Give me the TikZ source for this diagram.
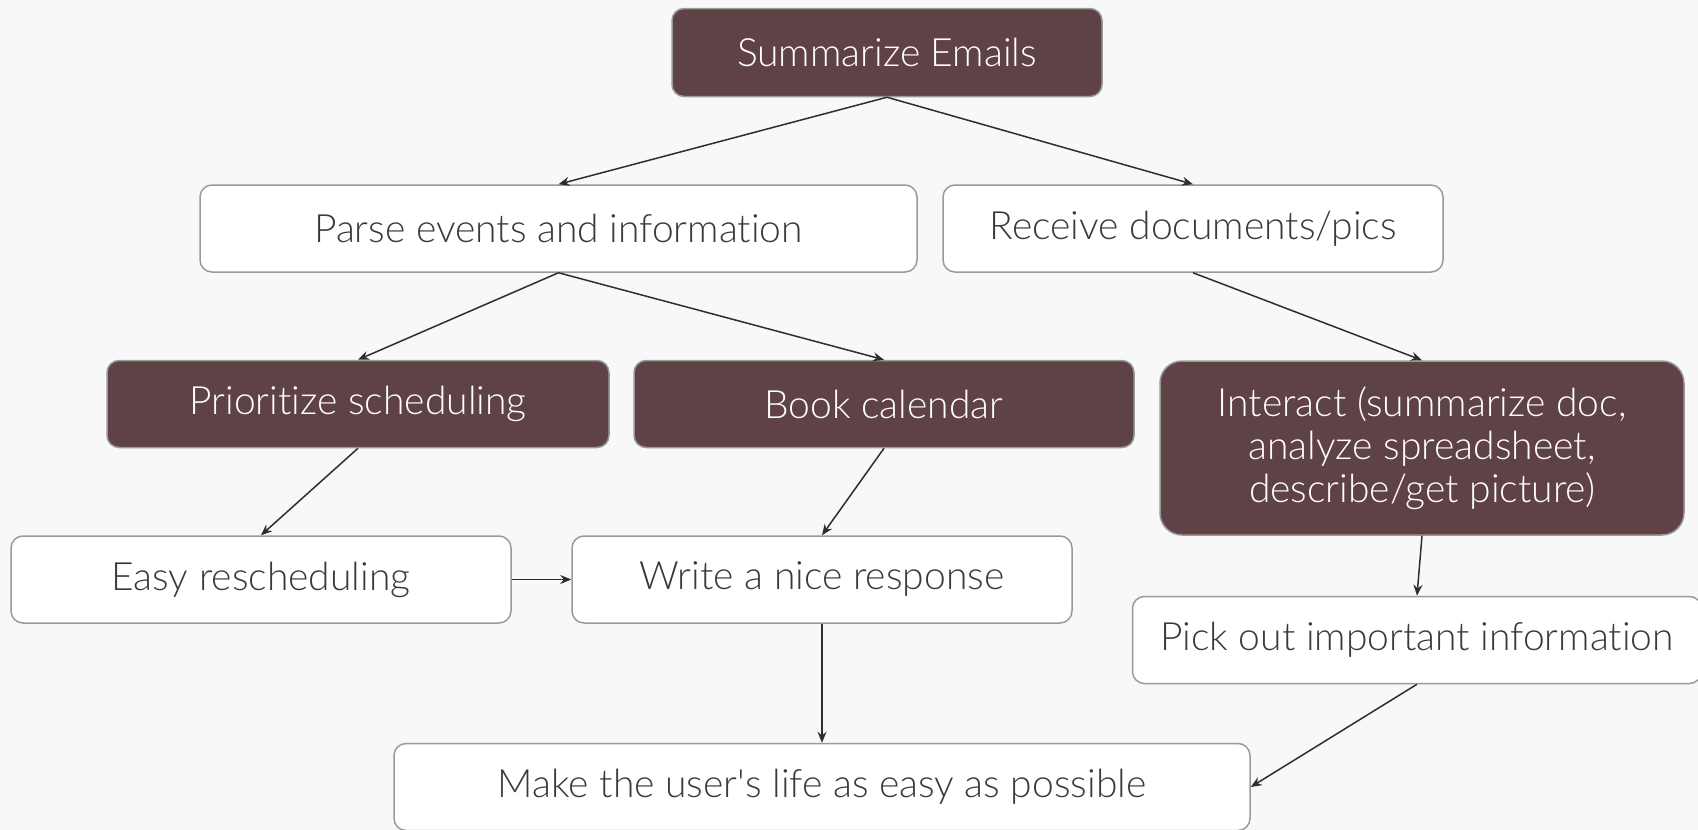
\documentclass[tikz,border=0pt]{standalone}
\usepackage{fontspec}
\IfFontExistsTF{Lato Light}{\setmainfont{Lato Light}[Ligatures=NoCommon]}{\setmainfont{Lato}[Ligatures=NoCommon]}
\usetikzlibrary{arrows.meta}
\definecolor{bg}{HTML}{F8F8F8}
\definecolor{dark}{HTML}{5E4246}
\definecolor{edge}{HTML}{9A9A9A}
\definecolor{txt}{HTML}{3A3A3A}
\definecolor{arr}{HTML}{2E2E2E}
\tikzset{
  base/.style={rectangle, rounded corners=12pt, draw=edge, line width=1.5pt, inner sep=0pt,
    minimum height=87pt, font=\fontsize{39}{43}\selectfont, align=center},
  darkbox/.style={base, fill=dark, text=white},
  lightbox/.style={base, fill=white, text=txt},
  conn/.style={draw=arr, line width=1.5pt, -{Stealth[length=11pt,width=9pt]}}
}
\begin{document}
\begin{tikzpicture}[x=1pt,y=-1pt]
\fill[bg] (0,0) rectangle (1698,830);
\useasboundingbox (0,0) rectangle (1698,830);
\node[darkbox, minimum width=430pt, minimum height=88pt] (sum) at (887,52.5) {Summarize Emails};
\node[lightbox, minimum width=717pt] (parse) at (558.5,228.5) {Parse events and information};
\node[lightbox, minimum width=500pt] (recv) at (1193,228.5) {Receive documents/pics};
\node[darkbox, minimum width=502pt] (prio) at (358,404) {Prioritize scheduling};
\node[darkbox, minimum width=500pt] (book) at (884,404) {Book calendar};
\node[darkbox, minimum width=524pt, minimum height=174pt, rounded corners=22pt] (inter) at (1422,448) {Interact (summarize doc,\\analyze spreadsheet,\\describe/get picture)};
\node[lightbox, minimum width=500pt] (easy) at (261,579.5) {Easy rescheduling};
\node[lightbox, minimum width=500pt] (write) at (822,579.5) {Write a nice response};
\node[lightbox, minimum width=569pt] (pick) at (1417,640) {Pick out important information};
\node[lightbox, minimum width=856pt] (make) at (822,787) {Make the user\textquotesingle s life as easy as possible};
\draw[conn] (sum.south) -- (parse.north);
\draw[conn] (sum.south) -- (recv.north);
\draw[conn] (parse.south) -- (prio.north);
\draw[conn] (parse.south) -- (book.north);
\draw[conn] (recv.south) -- (inter.north);
\draw[conn] (prio.south) -- (easy.north);
\draw[conn] (book.south) -- (write.north);
\draw[conn] (easy.east) -- (write.west);
\draw[conn] (inter.south) -- (pick.north);
\draw[conn] (write.south) -- (make.north);
\draw[conn] (pick.south) -- (make.east);
\end{tikzpicture}
\end{document}
